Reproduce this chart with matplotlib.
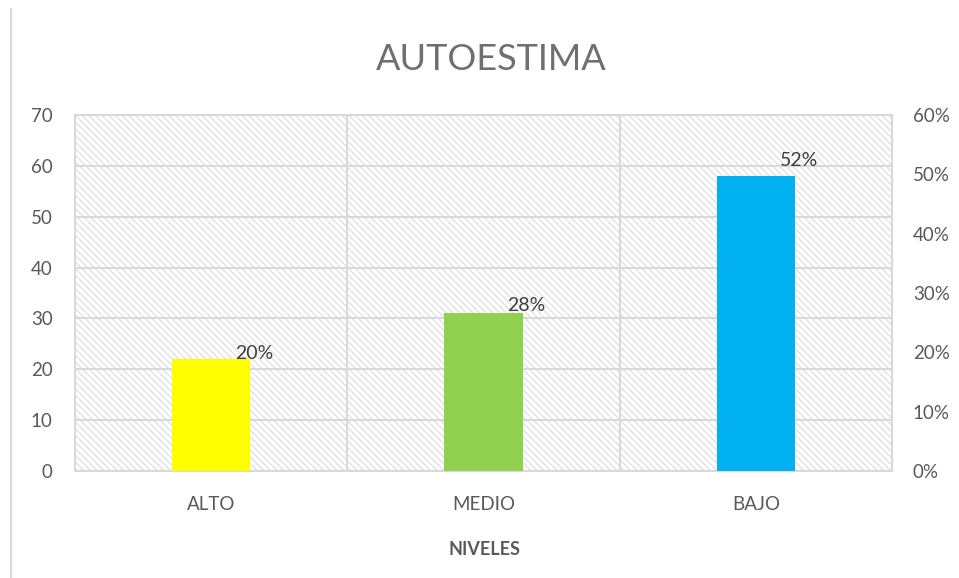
import matplotlib.pyplot as plt
from matplotlib.patches import Rectangle
from matplotlib.lines import Line2D

niveles = ['ALTO', 'MEDIO', 'BAJO']
cantidad = [22, 31, 58]
porcentaje = [0.198, 0.279, 0.523]
colores = ['#FFFF00', '#92D050', '#00B0F0']

plt.rcParams['font.family'] = ['Lato', 'DejaVu Sans']
plt.rcParams['hatch.linewidth'] = 1.0
plt.rcParams['hatch.color'] = '#e2e2e2'

fig = plt.figure(figsize=(9.59, 5.78), dpi=100)
ax = fig.add_axes([0.0782, 0.1851, 0.852, 0.616])

# fondo rayado del area de trazado
ax.add_patch(Rectangle((0, 0), 1, 1, transform=ax.transAxes, facecolor='white',
                       hatch='\\\\\\\\\\', edgecolor='#e2e2e2', linewidth=0, zorder=0))

x = list(range(len(niveles)))
ax.bar(x, cantidad, width=0.287, color=colores, zorder=3)

ax.set_xlim(-0.5, 2.5)
ax.set_ylim(0, 70)
ax.set_yticks(range(0, 71, 10))
ax.set_xticks(x)
ax.set_xticklabels(niveles)
ax.set_xticks([0.5, 1.5], minor=True)
ax.grid(True, axis='y', color='#d9d9d9', linewidth=1.5, zorder=1)
ax.grid(True, axis='x', which='minor', color='#d9d9d9', linewidth=1.5, zorder=1)
ax.grid(False, axis='x', which='major')
for s in ax.spines.values():
    s.set_color('#d9d9d9')
    s.set_linewidth(1.5)
ax.tick_params(axis='both', which='both', length=0, labelsize=13.5, colors='#595959')
ax.tick_params(axis='y', pad=16)
ax.tick_params(axis='x', pad=18)

ax2 = ax.twinx()
ax2.set_ylim(0, 0.6)
ax2.set_yticks([i / 10 for i in range(7)])
ax2.set_yticklabels([f'{i * 10}%' for i in range(7)])
ax2.tick_params(axis='y', length=0, labelsize=13.5, colors='#595959', pad=15)
for s in ax2.spines.values():
    s.set_visible(False)

for xi, p in zip(x, porcentaje):
    ax2.text(xi + 0.158, p, f'{p:.0%}', ha='center', va='center',
             fontsize=14, color='#404040', zorder=5)

fig.text(0.512, 0.897, 'AUTOESTIMA', ha='center', va='center', fontsize=26, color='#6f6f6f')
fig.text(0.505, 0.05, 'NIVELES', ha='center', va='center', fontsize=13,
         fontweight='bold', color='#595959')

fig.add_artist(Line2D([0.0115, 0.0115], [0.0, 0.985], color='#d9d9d9', linewidth=1.5))

fig.savefig('out.png', dpi=100)
